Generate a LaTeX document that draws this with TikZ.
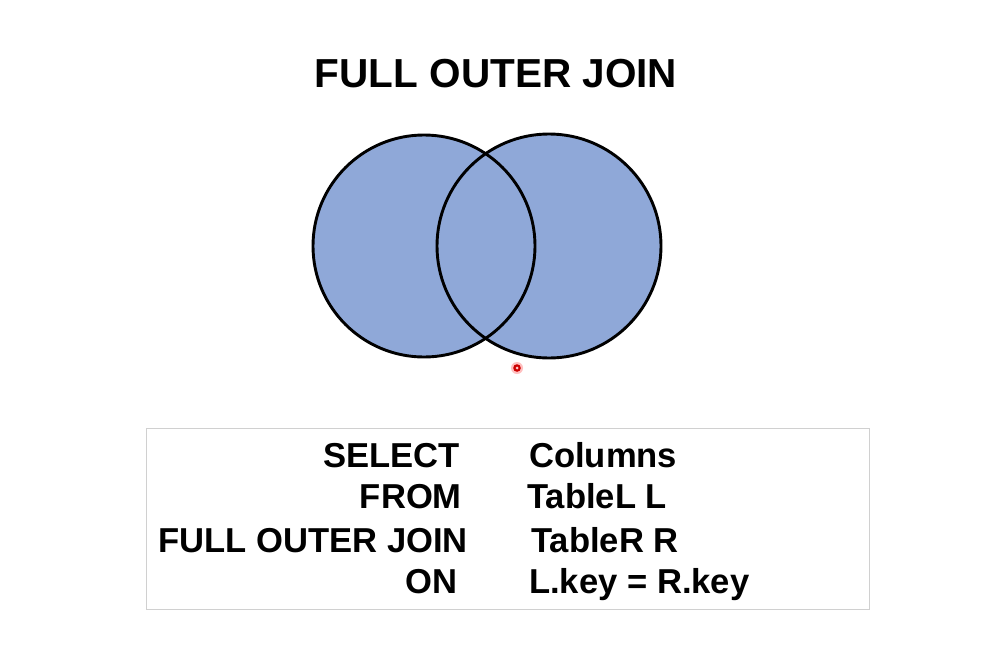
\documentclass[tikz,border=0pt]{standalone}
\usepackage{fontspec}
\setmainfont{Liberation Sans}
\definecolor{vennblue}{RGB}{143,168,216}
\definecolor{boxgray}{RGB}{208,208,208}
\begin{document}
\begin{tikzpicture}[x=1pt,y=-1pt,
  titletext/.style={inner sep=0pt,font=\fontsize{40.5}{46}\selectfont\bfseries},
  kw/.style={inner sep=0pt,anchor=base east,font=\fontsize{34.6}{40}\selectfont\bfseries},
  arg/.style={inner sep=0pt,anchor=base west,font=\fontsize{34.6}{40}\selectfont\bfseries},
  setcircle/.style={fill=vennblue},
  setline/.style={line width=2.9pt}]
\useasboundingbox (0,0) rectangle (1000,648);
\fill[white] (0,0) rectangle (1000,648);
% title
\node[titletext,anchor=base] (title) at (496,87) {FULL OUTER JOIN};
% venn
\fill[setcircle] (424,246) circle (111);
\fill[setcircle] (549,246) circle (112);
\draw[setline] (424,246) circle (111);
\draw[setline] (549,246) circle (112);
% cursor dot
\fill[red!25] (517,368) circle (6);
\fill[red!80!black] (517,368) circle (3.8);
\fill[red!20] (517,368) circle (1.5);
% query box
\node[draw=boxgray,line width=1.3pt,minimum width=723,minimum height=181,inner sep=0pt,anchor=north west] (box) at (146,427.5) {};
\node[kw] (k1) at (460,467) {SELECT};
\node[kw] (k2) at (462,508) {FROM};
\node[kw] (k3) at (468,552) {FULL OUTER JOIN};
\node[kw] (k4) at (458,593) {ON};
\node[arg] (a1) at (529,467) {Columns};
\node[arg] (a2) at (527,508) {TableL L};
\node[arg] (a3) at (531,552) {TableR R};
\node[arg] (a4) at (529,593) {L.key = R.key};
\end{tikzpicture}
\end{document}
